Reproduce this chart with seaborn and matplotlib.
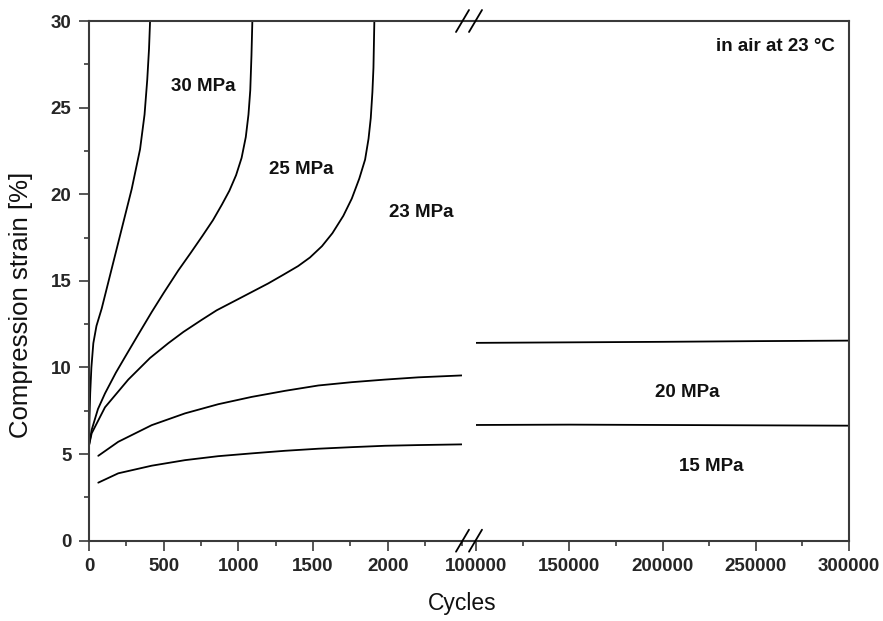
import matplotlib
matplotlib.use("Agg")
import matplotlib.pyplot as plt
from matplotlib.lines import Line2D
from matplotlib.ticker import MultipleLocator
import pandas as pd
import seaborn as sns

# --- short-time creep curves (0 - 2500 cycles) ---
cyc_30 = [0, 3, 8, 16, 29, 50, 85, 152, 219, 286, 342, 372, 390, 402, 409]
eps_30 = [5.6, 7.0, 8.5, 10.0, 11.4, 12.4, 13.4, 15.7, 18.0, 20.3, 22.6, 24.6, 26.6, 28.4, 30.0]

cyc_25 = [0, 18, 60, 107, 180, 241, 330, 420, 500, 598, 680, 760, 830, 890, 940,
          985, 1022, 1050, 1068, 1080, 1088, 1094]
eps_25 = [5.5, 6.4, 7.6, 8.5, 9.7, 10.6, 11.9, 13.2, 14.3, 15.6, 16.6, 17.6, 18.5, 19.4, 20.2,
          21.1, 22.1, 23.3, 24.6, 26.0, 28.0, 30.0]

cyc_23 = [0, 18, 107, 263, 409, 531, 632, 755, 855, 1000, 1100, 1200, 1301, 1400, 1480,
          1560, 1630, 1703, 1760, 1810, 1849, 1872, 1887, 1898, 1905, 1911]
eps_23 = [5.5, 6.2, 7.7, 9.3, 10.55, 11.4, 12.05, 12.75, 13.3, 13.95, 14.4, 14.85, 15.35, 15.85, 16.35,
          17.0, 17.75, 18.75, 19.75, 20.9, 22.0, 23.2, 24.4, 25.9, 27.3, 30.0]

cyc_20 = [62, 196, 420, 643, 866, 1089, 1312, 1536, 1759, 1982, 2205, 2496]
eps_20 = [4.90, 5.71, 6.67, 7.35, 7.88, 8.30, 8.65, 8.96, 9.15, 9.30, 9.43, 9.54]

cyc_15 = [62, 196, 420, 643, 866, 1089, 1312, 1536, 1759, 1982, 2205, 2496]
eps_15 = [3.35, 3.89, 4.33, 4.65, 4.88, 5.04, 5.19, 5.31, 5.40, 5.48, 5.52, 5.56]

# --- long-time part (100000 - 300000 cycles) ---
cyc_long = [100000, 150000, 200000, 250000, 300000]
eps_20_long = [11.42, 11.45, 11.48, 11.52, 11.55]
eps_15_long = [6.68, 6.70, 6.68, 6.66, 6.64]

y_ticks = [0, 5, 10, 15, 20, 25, 30]
x_ticks_short = [0, 500, 1000, 1500, 2000]
x_ticks_long = [100000, 150000, 200000, 250000, 300000]

rows = []
for load, xs, ys in [("30 MPa", cyc_30, eps_30), ("25 MPa", cyc_25, eps_25),
                     ("23 MPa", cyc_23, eps_23), ("20 MPa", cyc_20, eps_20),
                     ("15 MPa", cyc_15, eps_15)]:
    rows += [dict(load=load, part="short", cycles=x, strain=y) for x, y in zip(xs, ys)]
for load, ys in [("20 MPa", eps_20_long), ("15 MPa", eps_15_long)]:
    rows += [dict(load=load, part="long", cycles=x, strain=y) for x, y in zip(cyc_long, ys)]
df = pd.DataFrame(rows)

sns.set_theme(style="ticks")
plt.rcParams["font.family"] = ["Liberation Sans", "DejaVu Sans"]

W, H = 883, 621
fig = plt.figure(figsize=(W / 100, H / 100), dpi=100)

y0_px, y1_px = 540.7, 21.0
bottom = (H - y0_px) / H
height = (y0_px - y1_px) / H
ax1 = fig.add_axes([89 / W, bottom, (462.3 - 89) / W, height])
ax2 = fig.add_axes([476 / W, bottom, (849 - 476) / W, height])

spine_col = "#3a3a3a"
line_kw = dict(color="black", linewidth=1.3, estimator=None, units="load", legend=False)
sns.lineplot(data=df[df.part == "short"], x="cycles", y="strain", ax=ax1, **line_kw)
sns.lineplot(data=df[df.part == "long"], x="cycles", y="strain", ax=ax2, **line_kw)

ax1.set_xlim(0, 2500)
ax2.set_xlim(100000, 300000)
for ax in (ax1, ax2):
    ax.set_ylim(0, 30)
    ax.set_xlabel("")
    ax.set_ylabel("")
    for s in ax.spines.values():
        s.set_color(spine_col)
        s.set_linewidth(1.5)
    ax.tick_params(which="major", length=7.2, width=1.2, color=spine_col,
                   labelsize=13.5, pad=5.5)
    ax.tick_params(which="minor", length=3.6, width=1.2, color=spine_col)
    ax.tick_params(top=False, right=False, which="both")

ax1.spines["right"].set_visible(False)
ax2.spines["left"].set_visible(False)
ax2.tick_params(left=False, labelleft=False, which="both")

ax1.set_xticks(x_ticks_short)
ax1.xaxis.set_minor_locator(MultipleLocator(250))
ax1.set_yticks(y_ticks)
ax1.yaxis.set_minor_locator(MultipleLocator(2.5))
ax2.set_xticks(x_ticks_long)
ax2.set_xticklabels([str(v) for v in x_ticks_long])
ax2.xaxis.set_minor_locator(MultipleLocator(25000))
for lab in ax1.get_xticklabels() + ax1.get_yticklabels() + ax2.get_xticklabels():
    lab.set_fontweight("bold")
    lab.set_fontsize(13.5)

ax1.set_ylabel("Compression strain [%]", fontsize=18.5, color="#111111")
ax1.yaxis.set_label_coords(-0.15, 0.453)
fig.text(462 / W, (H - 610) / H, "Cycles", ha="center", va="baseline",
         fontsize=16.5, color="#111111")

# curve labels
ann_kw = dict(fontsize=13.5, fontweight="bold", ha="center", va="center", color="#111111")
ax1.text(764, 26.2, "30 MPa", **ann_kw)
ax1.text(1420, 21.4, "25 MPa", **ann_kw)
ax1.text(2224, 18.95, "23 MPa", **ann_kw)
ax2.text(213100, 8.57, "20 MPa", **ann_kw)
ax2.text(225900, 4.31, "15 MPa", **ann_kw)
ax2.text(292400, 28.53, "in air at 23 \u00b0C", fontsize=13.5, fontweight="bold",
         ha="right", va="center", color="#111111")

# axis break: join spines across the gap and draw the // marks
for ypx in (y0_px, y1_px):
    yf = (H - ypx) / H
    fig.add_artist(Line2D([462.3 / W, 476 / W], [yf, yf], color=spine_col, lw=1.5,
                          transform=fig.transFigure))
    for x_lo in (456, 469):
        fig.add_artist(Line2D([x_lo / W, (x_lo + 13) / W],
                              [(H - ypx - 11) / H, (H - ypx + 11) / H],
                              color="black", lw=1.3, transform=fig.transFigure))

fig.savefig("out.png", dpi=100, facecolor="white")
